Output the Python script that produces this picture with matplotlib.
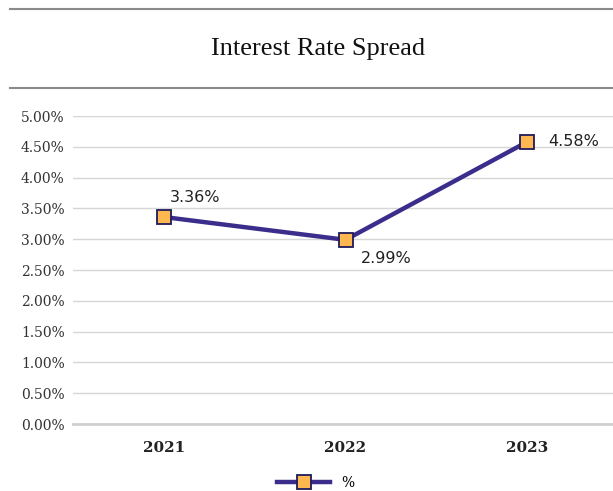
import matplotlib.pyplot as plt
from matplotlib.lines import Line2D
from matplotlib.ticker import FuncFormatter

years = ['2021', '2022', '2023']
spread = [3.36, 2.99, 4.58]
label_offsets = [(4, 9), (11, -8), (15, 0)]  # points, per data label
label_align = [('left', 'bottom'), ('left', 'top'), ('left', 'center')]

line_color = '#3b2d8c'
marker_face = '#ffb84f'
marker_edge = '#1f1a5c'

fig = plt.figure(figsize=(6.13, 4.91), dpi=100)
ax = fig.add_axes([73 / 613, 1 - 424 / 491, 545 / 613, 308 / 491])

x = range(len(years))
ax.plot(x, spread, color=line_color, lw=3.2, marker='s', ms=10.5,
        mfc=marker_face, mec=marker_edge, mew=1.3, zorder=3, clip_on=False)

for i, v in enumerate(spread):
    ha, va = label_align[i]
    ax.annotate('{:.2f}%'.format(v), xy=(i, v), xytext=label_offsets[i],
                textcoords='offset points', ha=ha, va=va,
                fontsize=11.5, family='DejaVu Sans', color='#222222')

ax.set_xlim(-0.5, 2.5)
ax.set_ylim(0, 5)
ax.set_yticks([i * 0.5 for i in range(11)])
ax.yaxis.set_major_formatter(FuncFormatter(lambda v, p: '{:.2f}%'.format(v)))
ax.set_xticks(list(x))
ax.set_xticklabels(years, fontsize=11, family='DejaVu Serif', fontweight='bold',
                   color='#222222')
for lab in ax.get_yticklabels():
    lab.set_family('DejaVu Serif')
    lab.set_fontsize(10)
    lab.set_color('#333333')

ax.grid(axis='y', color='#d6d6d6', lw=1)
ax.set_axisbelow(True)
for s in ['top', 'right', 'left']:
    ax.spines[s].set_visible(False)
ax.spines['bottom'].set_color('#cfcfcf')
ax.spines['bottom'].set_linewidth(2)
ax.tick_params(axis='y', length=0, pad=6)
ax.tick_params(axis='x', length=0, pad=12)

# header rules and title
fig.add_artist(Line2D([10 / 613, 1], [1 - 9 / 491] * 2, color='#8a8a8a', lw=1.5))
fig.add_artist(Line2D([10 / 613, 1], [1 - 88 / 491] * 2, color='#8a8a8a', lw=1.5))
fig.text(318 / 613, 1 - 49 / 491, 'Interest Rate Spread', ha='center', va='center',
         fontsize=19, family='Liberation Serif', color='#111111')

handle = Line2D([], [], color=line_color, lw=3.2, marker='s', ms=10.5,
                mfc=marker_face, mec=marker_edge, mew=1.3)
fig.legend([handle], ['%'], loc='center', bbox_to_anchor=(316 / 613, 1 - 483 / 491),
           frameon=False, prop={'family': 'DejaVu Serif', 'size': 10},
           handlelength=3.8, handletextpad=0.8)

fig.savefig('out.png', dpi=100)
